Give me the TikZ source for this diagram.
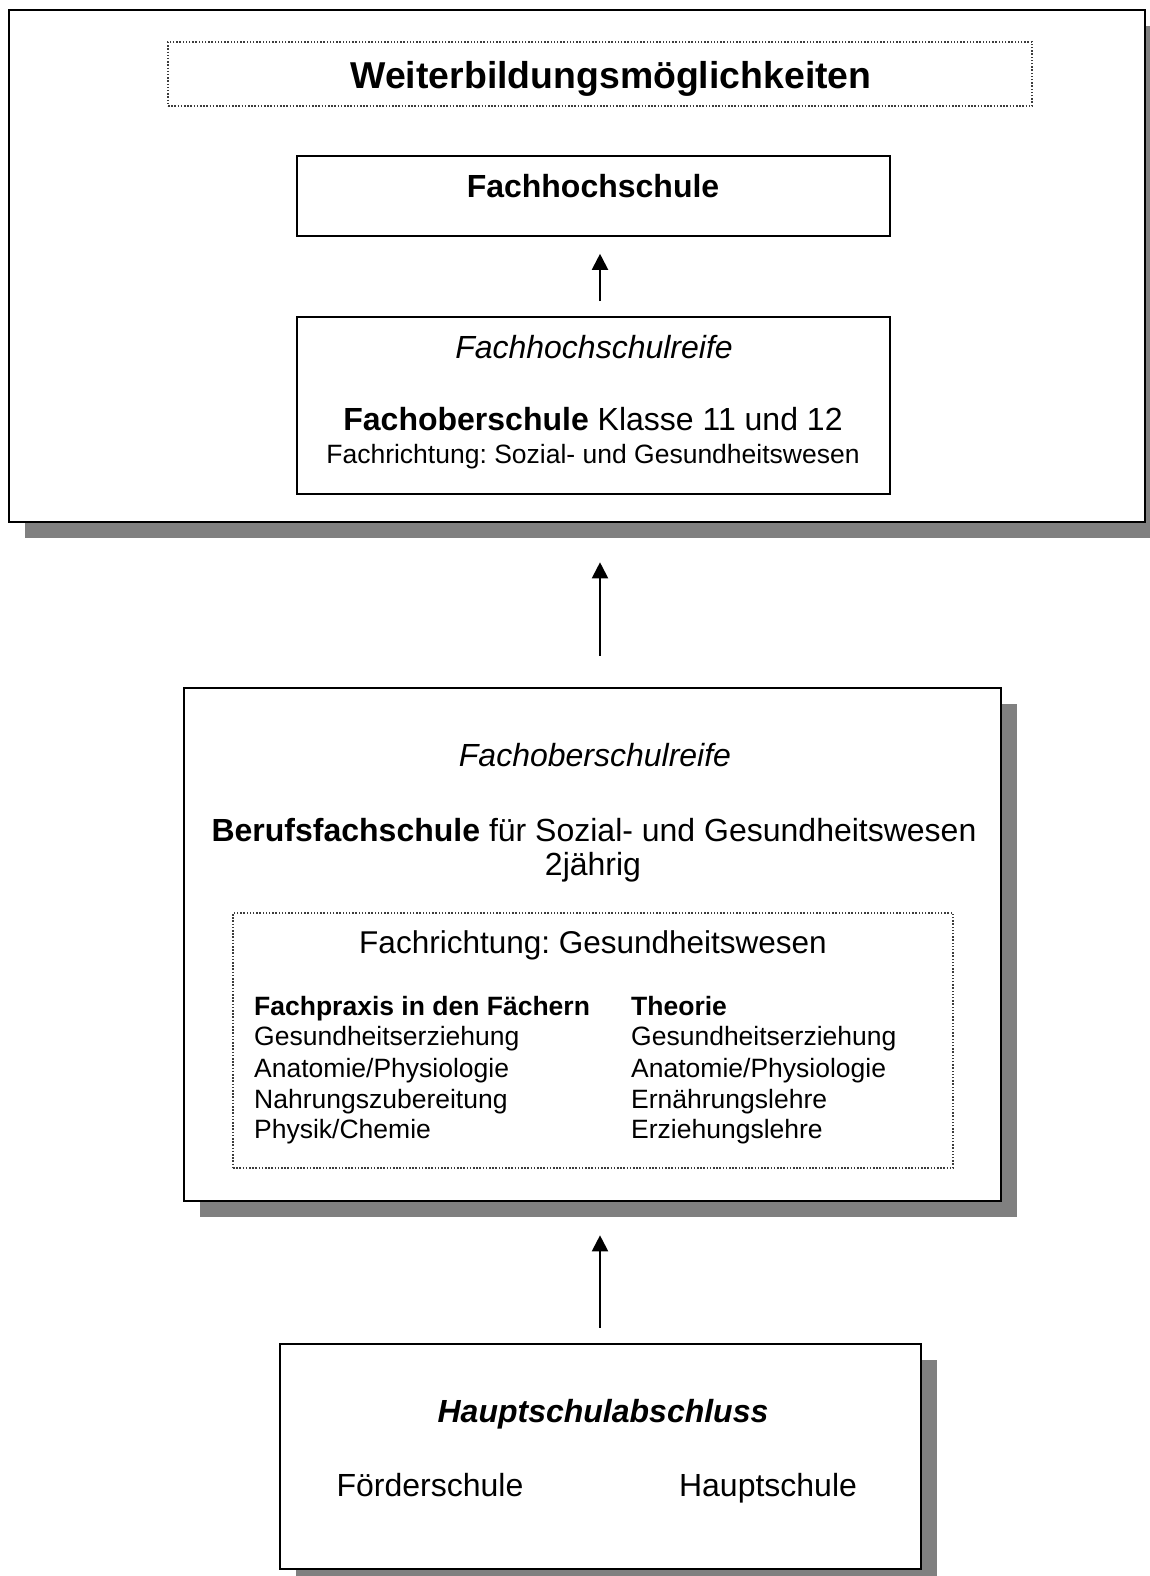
\documentclass[tikz,border=0pt]{standalone}
\usepackage{fontspec}
\setmainfont{Liberation Sans}
\usetikzlibrary{shadows,arrows.meta}
\definecolor{shadowgray}{RGB}{128,128,128}
\definecolor{dotgray}{RGB}{60,60,60}
\frenchspacing
\tikzset{
  bigbox/.style={draw=black, line width=2.6pt, fill=white,
    drop shadow={shadow xshift=16pt, shadow yshift=-16pt, fill=shadowgray, opacity=1}},
  smallbox/.style={draw=black, line width=1.6pt, fill=white},
  dotbox/.style={draw=dotgray, line width=1.3pt, dash pattern=on 1.5pt off 1.7pt},
  txt/.style={inner sep=0pt, anchor=base},
  txtl/.style={inner sep=0pt, anchor=base west},
  fbig/.style={font=\fontsize{32}{38}\selectfont},
  ftitle/.style={font=\fontsize{37.4}{44}\selectfont\bfseries},
  fsmall/.style={font=\fontsize{26.5}{31}\selectfont},
  fmid/.style={font=\fontsize{31.5}{37}\selectfont},
  arr/.style={line width=2pt, -{Triangle[length=16pt,width=16pt]}}
}
\begin{document}
\begin{tikzpicture}[x=1pt,y=-1pt]
\useasboundingbox (0,0) rectangle (1149,1576);
% top block
\node[bigbox, minimum width=1136pt, minimum height=512pt, inner sep=0pt] (top) at (577,266) {};
\node[dotbox, minimum width=864pt, minimum height=64pt, inner sep=0pt] (titlebox) at (600,74) {};
\node[txt, ftitle] (title) at (611,89) {Weiterbildungsmöglichkeiten};
\node[smallbox, minimum width=593pt, minimum height=80pt, inner sep=0pt] (fhs) at (593.5,196) {};
\node[txt, fbig] (fhstxt) at (593,197.5) {\textbf{Fachhochschule}};
\node[smallbox, minimum width=593pt, minimum height=177pt, inner sep=0pt] (fhr) at (593.5,405.5) {};
\node[txt, fbig] (fhrtxt) at (594,358.5) {\itshape Fachhochschulreife};
\node[txt, fbig] (fos) at (593,430.5) {\textbf{Fachoberschule} Klasse 11 und 12};
\node[txt, fsmall] (fosr) at (593,463.5) {Fachrichtung: Sozial- und Gesundheitswesen};
% middle block
\node[bigbox, minimum width=817pt, minimum height=513pt, inner sep=0pt] (mid) at (592.5,944.5) {};
\node[txt, fbig] (fobr) at (595,766.5) {\itshape Fachoberschulreife};
\node[txt, fbig] (bfs) at (594,841.5) {\textbf{Berufsfachschule} für Sozial- und Gesundheitswesen};
\node[txt, fbig] (bfs2) at (593,875.5) {2jährig};
\node[dotbox, minimum width=720pt, minimum height=255pt, inner sep=0pt] (inner) at (593,1040.5) {};
\node[txt, fmid] (fr) at (593,953) {Fachrichtung: Gesundheitswesen};
\node[txtl, fsmall] (l1) at (254,1015.5) {\textbf{Fachpraxis in den Fächern}};
\node[txtl, fsmall] (l2) at (254,1045.5) {Gesundheitserziehung};
\node[txtl, fsmall] (l3) at (254,1077) {Anatomie/Physiologie};
\node[txtl, fsmall] (l4) at (254,1108) {Nahrungszubereitung};
\node[txtl, fsmall] (l5) at (254,1138.5) {Physik/Chemie};
\node[txtl, fsmall] (r1) at (631,1015.5) {\textbf{Theorie}};
\node[txtl, fsmall] (r2) at (631,1045.5) {Gesundheitserziehung};
\node[txtl, fsmall] (r3) at (631,1077) {Anatomie/Physiologie};
\node[txtl, fsmall] (r4) at (631,1108) {Ernährungslehre};
\node[txtl, fsmall] (r5) at (631,1138.5) {Erziehungslehre};
% bottom block
\node[bigbox, minimum width=641pt, minimum height=225pt, inner sep=0pt] (bot) at (600.5,1456.5) {};
\node[txt, fbig] (hsa) at (603,1422.5) {\bfseries\itshape Hauptschulabschluss};
\node[txt, fbig] (foe) at (430,1496.5) {Förderschule};
\node[txt, fbig] (hs) at (768,1496.5) {Hauptschule};
% arrows
\coordinate (ax) at (600,0);
\draw[arr, shorten <=15pt, shorten >=17pt] (fhr.north -| ax) -- (fhs.south -| ax);
\draw[arr, shorten <=31pt, shorten >=39pt] (mid.north -| ax) -- (top.south -| ax);
\draw[arr, shorten <=15pt, shorten >=33pt] (bot.north -| ax) -- (mid.south -| ax);
\end{tikzpicture}
\end{document}
